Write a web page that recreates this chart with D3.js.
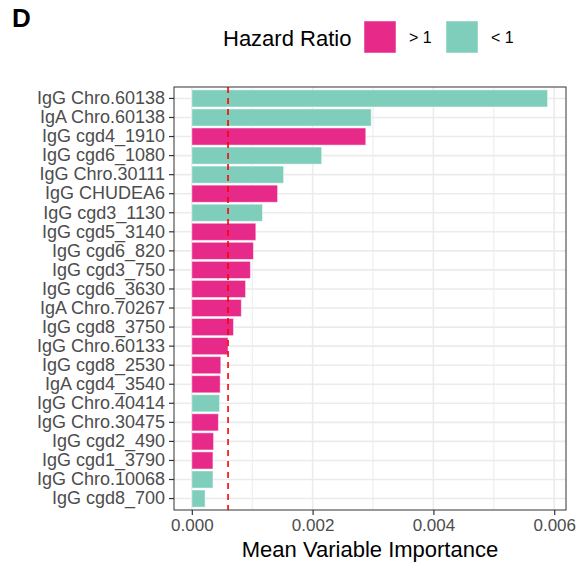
<!DOCTYPE html>
<html>
<head>
<meta charset="utf-8">
<script src="https://cdn.jsdelivr.net/npm/d3@7"></script>
<style>
  body { margin: 0; background: #fff; }
  text { font-family: "Liberation Sans", Arial, sans-serif; }
</style>
</head>
<body>
<div id="chart"></div>
<script>
// data, top to bottom
const features = ["IgG Chro.60138", "IgA Chro.60138", "IgG cgd4_1910", "IgG cgd6_1080",
  "IgG Chro.30111", "IgG CHUDEA6", "IgG cgd3_1130", "IgG cgd5_3140", "IgG cgd6_820",
  "IgG cgd3_750", "IgG cgd6_3630", "IgA Chro.70267", "IgG cgd8_3750", "IgG Chro.60133",
  "IgG cgd8_2530", "IgA cgd4_3540", "IgG Chro.40414", "IgG Chro.30475", "IgG cgd2_490",
  "IgG cgd1_3790", "IgG Chro.10068", "IgG cgd8_700"];
const importance = [0.00589, 0.00297, 0.00288, 0.00215, 0.00152, 0.00142, 0.00117, 0.00106,
  0.00102, 0.00097, 0.00089, 0.00082, 0.00069, 0.00060, 0.00048, 0.00047, 0.00046, 0.00044,
  0.00036, 0.00035, 0.00035, 0.00022];
const hazard = ["<1", "<1", ">1", "<1", "<1", ">1", "<1", ">1", ">1", ">1", ">1", ">1", ">1",
  ">1", ">1", ">1", "<1", ">1", ">1", ">1", "<1", "<1"];
const threshold = 0.0006;
const xTicks = [0, 0.002, 0.004, 0.006];
const xMinor = [0.001, 0.003, 0.005];
const legendKeys = [">1", "<1"];
const legendLabels = ["> 1", "< 1"];

const width = 583, height = 565;
const margin = {left: 174, right: 17, top: 87, bottom: 55};

const svg = d3.select("#chart").append("svg")
  .attr("width", width).attr("height", height);

const rows = features.map((f, i) => ({name: f, v: importance[i], hr: hazard[i]}));

const x = d3.scaleLinear()
  .domain([-0.0059 * 0.05, 0.0059 * 1.05])
  .range([margin.left, width - margin.right]);

const y = d3.scaleBand()
  .domain(features)
  .range([margin.top, height - margin.bottom])
  .paddingInner(0.1)
  .paddingOuter(0.15);

const color = d3.scaleOrdinal().domain(legendKeys).range(["#E7298A", "#7FCDBB"]);

const pTop = margin.top, pBottom = height - margin.bottom;
const pLeft = margin.left, pRight = width - margin.right;

// grid
let g = svg.append("g");
g.selectAll(".minor").data(xMinor).enter().append("line")
  .attr("x1", d => x(d)).attr("x2", d => x(d))
  .attr("y1", pTop).attr("y2", pBottom)
  .attr("stroke", "#EBEBEB").attr("stroke-width", 1);
g.selectAll(".major").data(xTicks).enter().append("line")
  .attr("x1", d => x(d)).attr("x2", d => x(d))
  .attr("y1", pTop).attr("y2", pBottom)
  .attr("stroke", "#EBEBEB").attr("stroke-width", 1.6);
g.selectAll(".hgrid").data(features).enter().append("line")
  .attr("x1", pLeft).attr("x2", pRight)
  .attr("y1", d => y(d) + y.bandwidth() / 2).attr("y2", d => y(d) + y.bandwidth() / 2)
  .attr("stroke", "#EBEBEB").attr("stroke-width", 1.6);

// bars
svg.append("g").selectAll("rect").data(rows).enter().append("rect")
  .attr("x", x(0))
  .attr("y", d => y(d.name))
  .attr("width", d => x(d.v) - x(0))
  .attr("height", y.bandwidth())
  .attr("fill", d => color(d.hr))
  .attr("stroke", "rgba(255,255,255,0.5)")
  .attr("stroke-width", 1);

// threshold
svg.append("line")
  .attr("x1", x(threshold)).attr("x2", x(threshold))
  .attr("y1", pTop).attr("y2", pBottom)
  .attr("stroke", "#FF0000").attr("stroke-width", 1.6)
  .attr("stroke-dasharray", "6,5");

// border
svg.append("rect")
  .attr("x", pLeft).attr("y", pTop)
  .attr("width", pRight - pLeft).attr("height", pBottom - pTop)
  .attr("fill", "none").attr("stroke", "#333").attr("stroke-width", 1);

// axes
const yAxis = svg.append("g")
  .attr("transform", `translate(${pLeft},0)`)
  .call(d3.axisLeft(y).tickSize(5).tickPadding(4));
yAxis.select(".domain").remove();
yAxis.selectAll("line").attr("stroke", "#333").attr("stroke-width", 1.2);
yAxis.selectAll("text").attr("fill", "#4D4D4D").style("font-size", "18px")
  .style("font-family", '"Liberation Sans", Arial, sans-serif');

const xAxis = svg.append("g")
  .attr("transform", `translate(0,${pBottom})`)
  .call(d3.axisBottom(x).tickValues(xTicks).tickFormat(d3.format(".3f")).tickSize(5).tickPadding(4));
xAxis.select(".domain").remove();
xAxis.selectAll("line").attr("stroke", "#333").attr("stroke-width", 1.2);
xAxis.selectAll("text").attr("fill", "#4D4D4D").style("font-size", "17px")
  .style("font-family", '"Liberation Sans", Arial, sans-serif');

svg.append("text")
  .attr("x", (pLeft + pRight) / 2).attr("y", 557)
  .attr("text-anchor", "middle")
  .style("font-size", "22px").attr("fill", "#000")
  .text("Mean Variable Importance");

// tag
svg.append("text")
  .attr("x", 12).attr("y", 27)
  .style("font-size", "26px").style("font-weight", "bold")
  .text("D");

// legend
const leg = svg.append("g");
leg.append("text").attr("x", 223).attr("y", 46)
  .style("font-size", "22px").text("Hazard Ratio");
const keyX = [364, 446];
legendKeys.forEach((k, i) => {
  leg.append("rect")
    .attr("x", keyX[i]).attr("y", 21).attr("width", 32).attr("height", 32)
    .attr("fill", color(k))
    .attr("stroke", "rgba(255,255,255,0.5)");
  leg.append("text")
    .attr("x", keyX[i] + 45).attr("y", 43)
    .style("font-size", "16px").attr("fill", "#000")
    .text(legendLabels[i]);
});
</script>
</body>
</html>
